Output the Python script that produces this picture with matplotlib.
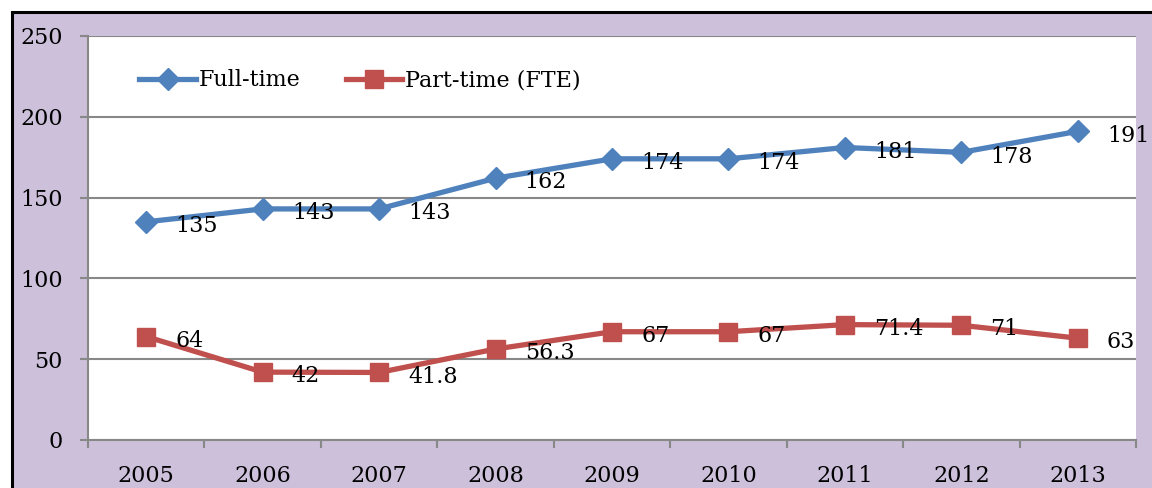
import matplotlib.pyplot as plt
from matplotlib.patches import Rectangle

years = ["2005", "2006", "2007", "2008", "2009", "2010", "2011", "2012", "2013"]
full_time = [135, 143, 143, 162, 174, 174, 181, 178, 191]
part_time = [64, 42, 41.8, 56.3, 67, 67, 71.4, 71, 63]
part_labels = ["64", "42", "41.8", "56.3", "67", "67", "71.4", "71", "63"]

plt.rcParams["font.family"] = ["DejaVu Serif"]
plt.rcParams["font.size"] = 16

W, H = 1152, 488
fig = plt.figure(figsize=(W / 100, H / 100), dpi=100, facecolor="white")

# lavender chart area with black frame (cropped on right / bottom)
frame = Rectangle((11.5 / W, -0.05), 1.2, (H - 12.5) / H + 0.05,
                  transform=fig.transFigure, facecolor="#ccc0da",
                  edgecolor="black", linewidth=2.2, zorder=-5)
fig.patches.append(frame)

ax = fig.add_axes([88 / W, (H - 440) / H, (1136 - 88) / W, (440 - 36) / H])
ax.set_zorder(2)
ax.set_facecolor("white")

x = list(range(len(years)))
blue = "#4f81bd"
red = "#c0504d"
ax.plot(x, full_time, color=blue, linewidth=3.8, marker="D", markersize=11,
        label="Full-time", zorder=3)
ax.plot(x, part_time, color=red, linewidth=3.8, marker="s", markersize=13,
        label="Part-time (FTE)", zorder=3)

for i, v in enumerate(full_time):
    ax.annotate(str(v), (i, v), xytext=(21, -3), textcoords="offset points",
                ha="left", va="center", zorder=4)
for i, v in enumerate(part_time):
    ax.annotate(part_labels[i], (i, v), xytext=(21, -3), textcoords="offset points",
                ha="left", va="center", zorder=4)

ax.set_xlim(-0.5, len(years) - 0.5)
ax.set_ylim(0, 250)
ax.set_yticks([0, 50, 100, 150, 200, 250])
ax.yaxis.grid(True, color="#888888", linewidth=1.5)
ax.set_axisbelow(True)

ax.set_xticks(x)
ax.set_xticklabels(years)
ax.set_xticks([i - 0.5 for i in range(len(years) + 1)], minor=True)
ax.tick_params(axis="x", which="major", length=0, pad=18)
ax.tick_params(axis="x", which="minor", length=6, width=1.5, color="#888888",
               direction="out")
ax.tick_params(axis="y", length=6, width=1.5, color="#888888", pad=12)

for s in ["top", "right"]:
    ax.spines[s].set_visible(False)
for s in ["left", "bottom"]:
    ax.spines[s].set_color("#888888")
    ax.spines[s].set_linewidth(1.5)

ax.legend(loc="upper left", bbox_to_anchor=(0.03, 0.967), ncol=2, frameon=False,
          handlelength=2.55, handletextpad=0.1, columnspacing=2.05)

fig.savefig("out.png", dpi=100, facecolor="white")
